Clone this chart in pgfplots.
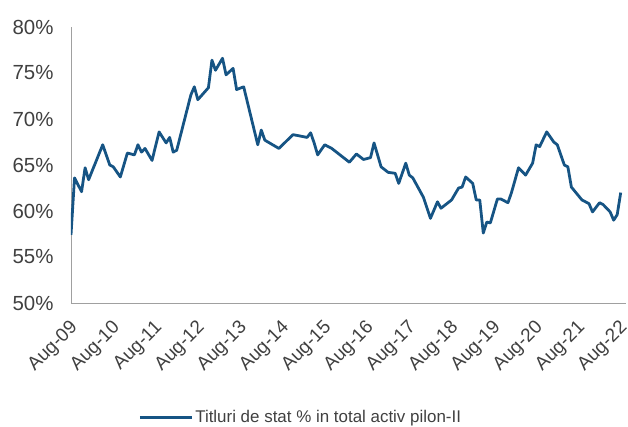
\documentclass[border=0pt]{standalone}
\usepackage{pgfplots}
\pgfplotsset{compat=1.18}
\usepackage{fontspec}
\setmainfont{Liberation Sans}
\definecolor{lineblue}{RGB}{22,84,132}
\definecolor{txt}{RGB}{64,64,64}
\definecolor{axgray}{RGB}{160,160,160}
\begin{document}
\begin{tikzpicture}
\begin{axis}[
  name=ax,
  scale only axis,
  width=555bp, height=276bp,
  xmin=0, xmax=157.5,
  ymin=50, ymax=80,
  axis x line=bottom, axis y line=left,
  axis line style={axgray, line width=1pt, -},
  xtick={0,12,24,36,48,60,72,84,96,108,120,132,144,156},
  xticklabels={Aug-09,Aug-10,Aug-11,Aug-12,Aug-13,Aug-14,Aug-15,Aug-16,Aug-17,Aug-18,Aug-19,Aug-20,Aug-21,Aug-22},
  ytick={50,55,60,65,70,75,80},
  yticklabel={\pgfmathprintnumber{\tick}\%},
  /pgf/number format/assume math mode=true,
  major tick length=0pt,
  y tick label style={font=\fontsize{20.5}{23}\selectfont, text=txt, xshift=-14bp},
  x tick label style={font=\fontsize{19}{21}\selectfont, text=txt, xshift=4bp, yshift=-22bp, rotate=45, anchor=east, inner sep=0pt},
  legend style={at={(0.414,-0.415)}, anchor=center, draw=none, fill=none,
    font=\fontsize{17}{19}\selectfont, text=txt, legend columns=1},
  legend cell align=left,
  legend image code/.code={\draw[#1, line width=2.8pt] (0bp,0bp) -- (52bp,0bp);},
]
\addplot[lineblue, line width=2.8pt, line join=round] coordinates {
(0,57.4)(1,63.6)(3,62.1)(4,64.7)(5,63.4)(7,65.3)(9,67.2)(11,65.0)(12,64.8)(14,63.7)
(16,66.3)(18,66.1)(19,67.2)(20,66.4)(21,66.8)(23,65.5)(25,68.6)(27,67.4)(28,68.0)(29,66.4)
(30,66.6)(32,69.6)(34,72.6)(35,73.5)(36,72.1)(39,73.4)(40,76.4)(41,75.3)(43,76.6)(44,74.8)
(46,75.5)(47,73.2)(49,73.5)(53,67.2)(54,68.8)(55,67.7)(59,66.8)(63,68.3)(67,68.0)(68,68.5)
(69,67.4)(70,66.1)(72,67.2)(74,66.8)(77,65.9)(79,65.3)(81,66.2)(83,65.6)(85,65.8)(86,67.4)
(88,64.8)(90,64.2)(92,64.1)(93,63.0)(95,65.2)(96,63.9)(97,63.6)(100,61.5)(102,59.2)(104,61.0)
(105,60.3)(107,60.9)(108,61.2)(110,62.5)(111,62.6)(112,63.7)(114,63.0)(115,61.2)(116,61.2)(117,57.6)
(118,58.8)(119,58.7)(121,61.3)(122,61.3)(124,60.9)(125,62.0)(127,64.7)(129,63.9)(131,65.2)(132,67.2)
(133,67.0)(135,68.6)(137,67.5)(138,67.2)(140,65.0)(141,64.8)(142,62.6)(145,61.2)(147,60.8)(148,59.9)
(150,60.9)(151,60.7)(153,59.9)(154,59.0)(155,59.6)(156,62.0)
};
\addlegendentry{Titluri de stat \% in total activ pilon-II}
\end{axis}
\pgfresetboundingbox
\path ([xshift=-71bp,yshift=-124bp]ax.south west) rectangle ([xshift=2bp,yshift=27bp]ax.north east);
\end{tikzpicture}
\end{document}
